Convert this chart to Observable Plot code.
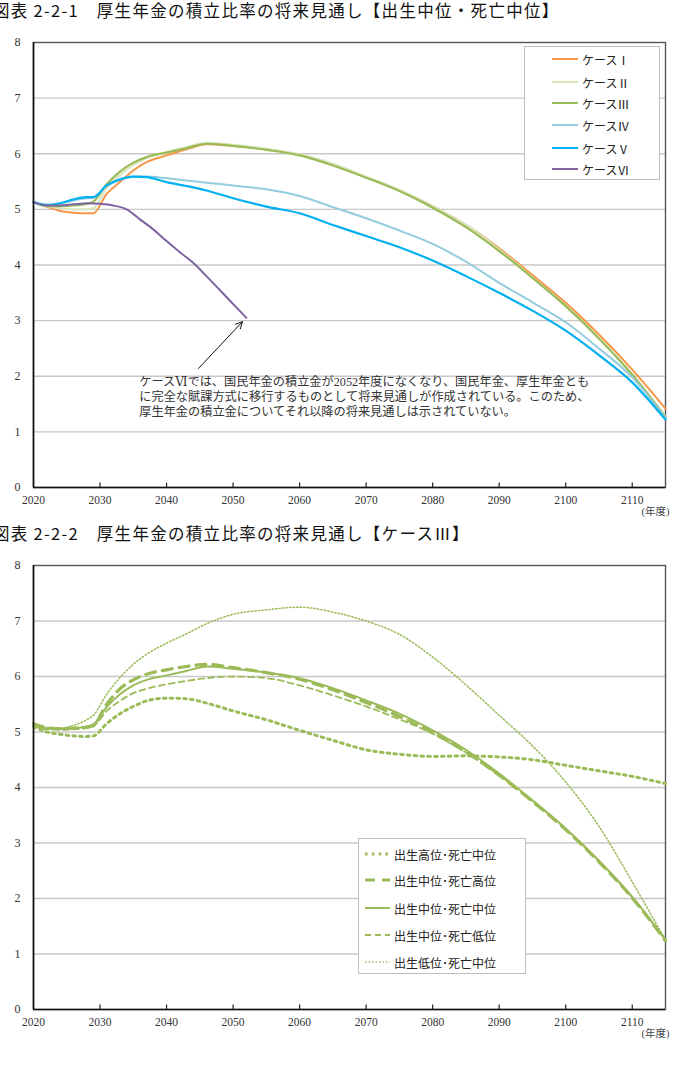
<!DOCTYPE html>
<html><head><meta charset="utf-8">
<script src="https://cdn.jsdelivr.net/npm/d3@7"></script>
<script src="https://cdn.jsdelivr.net/npm/@observablehq/plot@0.6"></script>
<style>
body{margin:0;background:#fff;}
#wrap{position:relative;width:675px;height:1075px;overflow:hidden;background:#fff;font-family:"Noto Sans CJK JP",sans-serif;}
.title{position:absolute;left:-7px;font-size:16.5px;letter-spacing:1.3px;line-height:20px;color:#111;white-space:nowrap;}
.chart{position:absolute;left:0;}
#wrap svg.chart text{font-family:"Liberation Serif","DejaVu Serif","Noto Sans CJK JP",serif;}
.legend{position:absolute;background:#fff;border:1px solid #bdbdbd;box-sizing:border-box;}
.row{position:absolute;left:0;display:flex;align-items:center;font-size:12px;color:#222;white-space:nowrap;height:16px;}
.row svg{display:block;}
</style></head>
<body><div id="wrap"></div>
<script>
// ---- data ----
const years = [2020,2022,2024,2026,2028,2029,2031,2033,2035,2037,2040,2043,2046,2050,2055,2060,2065,2070,2075,2080,2085,2090,2095,2100,2105,2110,2115];
const case1 = [5.13,5.05,4.97,4.94,4.93,4.93,5.28,5.49,5.70,5.85,5.97,6.08,6.17,6.14,6.08,5.98,5.80,5.58,5.34,5.06,4.72,4.30,3.82,3.32,2.75,2.12,1.42];
const case2 = [5.13,5.06,5.02,5.00,5.00,5.02,5.38,5.62,5.80,5.92,6.03,6.12,6.20,6.16,6.09,5.99,5.82,5.59,5.35,5.06,4.72,4.28,3.78,3.27,2.68,2.02,1.28];
const case3 = [5.13,5.06,5.06,5.07,5.10,5.14,5.45,5.68,5.84,5.94,6.02,6.10,6.18,6.14,6.07,5.97,5.79,5.57,5.33,5.03,4.68,4.25,3.77,3.26,2.68,2.03,1.26];
const case4 = [5.13,5.07,5.10,5.16,5.20,5.21,5.42,5.53,5.59,5.59,5.56,5.52,5.48,5.43,5.36,5.24,5.04,4.84,4.62,4.38,4.06,3.68,3.33,2.97,2.50,1.98,1.25];
const case5 = [5.13,5.08,5.11,5.18,5.22,5.22,5.43,5.54,5.59,5.58,5.49,5.42,5.34,5.20,5.05,4.93,4.72,4.52,4.32,4.08,3.80,3.50,3.18,2.82,2.38,1.89,1.22];
const years6 = [2020,2022,2024,2026,2028,2030,2032,2034,2036,2038,2040,2042,2044,2046,2048,2050,2052];
const case6 = [5.13,5.07,5.07,5.09,5.11,5.10,5.07,5.00,4.82,4.64,4.43,4.23,4.04,3.80,3.55,3.30,3.05];

const highBirth = [5.10,5.00,4.96,4.93,4.92,4.93,5.15,5.33,5.46,5.56,5.61,5.60,5.52,5.38,5.22,5.03,4.85,4.68,4.60,4.56,4.57,4.55,4.50,4.40,4.30,4.20,4.07];
const highDeath = [5.15,5.08,5.06,5.07,5.09,5.12,5.50,5.78,5.94,6.04,6.12,6.18,6.22,6.16,6.07,5.95,5.76,5.53,5.28,4.99,4.64,4.22,3.75,3.24,2.66,2.01,1.24];
const midMid = case3;
const lowDeath = [5.12,5.05,5.04,5.05,5.07,5.10,5.38,5.56,5.70,5.78,5.86,5.92,5.97,6.00,5.97,5.84,5.66,5.46,5.23,4.97,4.63,4.22,3.76,3.25,2.67,2.02,1.25];
const lowBirth = [5.15,5.08,5.07,5.12,5.22,5.30,5.68,5.98,6.22,6.40,6.60,6.77,6.95,7.12,7.20,7.25,7.16,7.00,6.76,6.35,5.85,5.30,4.75,4.10,3.30,2.30,1.25];

const caseNames = ["ケースⅠ","ケースⅡ","ケースⅢ","ケースⅣ","ケースⅤ","ケースⅥ"];
const scenarioNames = ["出生高位･死亡中位","出生中位･死亡高位","出生中位･死亡中位","出生中位･死亡低位","出生低位･死亡中位"];
const xTicks = [2020,2030,2040,2050,2060,2070,2080,2090,2100,2110];
const yTicks = [0,1,2,3,4,5,6,7,8];
const gridTicks = [1,2,3,4,5,6,7];

const title1 = "図表 2-2-1　厚生年金の積立比率の将来見通し【出生中位・死亡中位】";
const title2 = "図表 2-2-2　厚生年金の積立比率の将来見通し【ケースⅢ】";
const unitLabel = "(年度)";
const annoText = "ケースⅥでは、国民年金の積立金が2052年度になくなり、国民年金、厚生年金とも\nに完全な賦課方式に移行するものとして将来見通しが作成されている。このため、\n厚生年金の積立金についてそれ以降の将来見通しは示されていない。";
const anno = {x: 2035.9, y: 2.02};
const arrowSpec = [{x1: 2044.8, y1: 2.14, x2: 2051.4, y2: 2.98}];

// ---- styles ----
const caseColors = ["#F79646","#D7E4BD","#9BBB59","#93CDDD","#00B0F0","#8064A2"];
const caseWidths = [2,2,2.2,2,2.2,2];
const green = "#9BBB59";
const scenStyles = [
  {w:3, dash:"2.6,4.2"},
  {w:3.2, dash:"10,7"},
  {w:2, dash:null},
  {w:1.8, dash:"6,4"},
  {w:1.5, dash:"1.4,2.1"}
];

const toRows = (xs, ys, key) => xs.map((x,i)=>({year:x, v:ys[i], key}));

function baseMarks(){
  return [
    Plot.ruleY(gridTicks, {stroke:"#c8c8c8", strokeWidth:1.3}),
    Plot.frame({stroke:"#555", strokeWidth:1.4}),
    Plot.ruleX(xTicks.slice(1), {y1:0, y2:0.08, stroke:"#222", strokeWidth:1.2}),
    Plot.axisX(xTicks, {label:null, tickSize:0, tickPadding:8, fontSize:11.5, fill:"#333", tickFormat:d=>String(d)}),
    Plot.axisY(yTicks, {label:null, tickSize:0, tickPadding:13, fontSize:12, fill:"#333", tickFormat:d=>String(d)}),
    Plot.text([unitLabel], {frameAnchor:"bottom-right", dx:-24, dy:27, textAnchor:"start", fontSize:10.5, fill:"#444"})
  ];
}
function axesLines(){
  return [
    Plot.ruleX([2020], {stroke:"#111", strokeWidth:1.6}),
    Plot.ruleY([0], {stroke:"#111", strokeWidth:1.6})
  ];
}
const common = {
  width:675, height:500, marginLeft:33, marginRight:10, marginBottom:41,
  x:{domain:[2020,2115], label:null}, y:{domain:[0,8], label:null},
  style:{background:"#fff", overflow:"visible"}
};

const caseSeries = [case1,case2,case3,case4,case5];
const chart1Marks = [...baseMarks()];
caseSeries.forEach((s,i)=>{
  chart1Marks.push(Plot.line(toRows(years, s, caseNames[i]), {x:"year", y:"v", stroke:caseColors[i], strokeWidth:caseWidths[i], curve:"monotone-x"}));
});
chart1Marks.push(Plot.line(toRows(years6, case6, caseNames[5]), {x:"year", y:"v", stroke:caseColors[5], strokeWidth:caseWidths[5], curve:"monotone-x"}));
chart1Marks.push(...axesLines());
chart1Marks.push(Plot.arrow(arrowSpec, {x1:"x1", y1:"y1", x2:"x2", y2:"y2", stroke:"#111", strokeWidth:1, headLength:11, headAngle:55}));
chart1Marks.push(Plot.text([annoText], {x:anno.x, y:anno.y, textAnchor:"start", lineAnchor:"top", lineHeight:1.25, fontSize:12.2, fill:"#333"}));

const chart1 = Plot.plot({...common, marginTop:14, marks:chart1Marks});

const scenSeries = [highBirth, highDeath, midMid, lowDeath, lowBirth];
const chart2Marks = [...baseMarks()];
scenSeries.forEach((s,i)=>{
  const st = scenStyles[i];
  const o = {x:"year", y:"v", stroke:green, strokeWidth:st.w, curve:"monotone-x"};
  if (st.dash) o.strokeDasharray = st.dash;
  chart2Marks.push(Plot.line(toRows(years, s, scenarioNames[i]), o));
});
chart2Marks.push(...axesLines());
const chart2 = Plot.plot({...common, marginTop:15, marks:chart2Marks});

// ---- layout ----
const wrap = document.getElementById("wrap");
function addDiv(cls, text, top){ const d=document.createElement("div"); d.className=cls; d.textContent=text; d.style.top=top+"px"; wrap.appendChild(d); return d; }
addDiv("title", title1, 0);
chart1.classList.add("chart"); chart1.style.top="28px"; wrap.appendChild(chart1);
addDiv("title", title2, 523);
chart2.classList.add("chart"); chart2.style.top="550px"; wrap.appendChild(chart2);

function legend(box, names, styleFn, rowTops, sampleLeft, sampleW){
  const lg = document.createElement("div");
  lg.className="legend";
  Object.assign(lg.style,{left:box.x+"px", top:box.y+"px", width:box.w+"px", height:box.h+"px"});
  names.forEach((n,i)=>{
    const r=document.createElement("div"); r.className="row";
    r.style.top=(rowTops[i]-box.y-8)+"px"; r.style.left=sampleLeft+"px";
    const s=styleFn(i);
    r.innerHTML=`<svg width="${sampleW+4}" height="16"><line x1="0" x2="${sampleW}" y1="8" y2="8" stroke="${s.c}" stroke-width="${s.w}" ${s.dash?`stroke-dasharray="${s.dash}"`:""}/></svg><span>${n}</span>`;
    lg.appendChild(r);
  });
  wrap.appendChild(lg);
}
legend({x:524,y:46,w:136,h:134}, caseNames, i=>({c:caseColors[i], w:2}), [58,81,102,124,147,168], 27, 26);
legend({x:358,y:838,w:168,h:136}, scenarioNames, i=>({c:green, w:scenStyles[i].w, dash:scenStyles[i].dash}), [853,879,907,934,961], 6, 25);
</script></body></html>
